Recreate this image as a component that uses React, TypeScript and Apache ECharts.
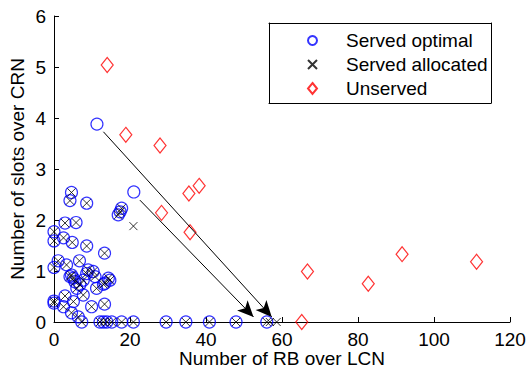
import React, { useEffect, useRef } from "react";
import * as echarts from "echarts";

// Served optimal (blue circles)
const servedOptimal: [number, number][] = [
  [11.3, 3.88], [21.0, 2.55],
  [4.6, 2.54], [4.2, 2.38], [8.6, 2.33], [17.8, 2.23], [17.4, 2.16], [16.9, 2.1],
  [2.9, 1.94], [5.8, 1.95], [0, 1.77], [0, 1.59], [2.5, 1.65], [4.8, 1.56], [8.6, 1.49],
  [13.3, 1.35], [1.1, 1.2], [0, 1.07], [3.3, 1.12], [6.7, 1.2],
  [4.6, 0.92], [5.1, 0.86], [4.2, 0.89], [5.5, 0.79], [6.8, 0.73], [7.7, 0.82], [8.6, 0.95],
  [10.3, 0.99], [9.0, 1.02], [10.8, 0.89], [6.0, 0.66], [7.7, 0.53], [11.2, 0.66], [13.4, 0.76],
  [14.7, 0.82], [14.3, 0.86], [13.0, 0.74],
  [0, 0.37], [0, 0.41], [2.9, 0.51], [2.5, 0.3], [5.1, 0.4], [9.9, 0.3], [13.3, 0.35],
  [4.6, 0.18], [6.4, 0.1],
  [7.3, 0], [12.1, 0], [13.0, 0], [13.9, 0], [15.2, 0], [17.8, 0], [20.9, 0], [29.5, 0],
  [34.7, 0], [40.9, 0], [47.9, 0], [56.0, 0],
];

// Served allocated (black crosses)
const servedAllocated: [number, number][] = [
  [20.9, 1.88],
  [4.6, 2.54], [4.2, 2.38], [8.6, 2.33], [17.8, 2.23], [17.4, 2.16], [16.9, 2.1],
  [2.9, 1.94], [5.8, 1.95], [0, 1.77], [0, 1.59], [2.5, 1.65], [4.8, 1.56], [8.6, 1.49],
  [13.3, 1.35], [1.1, 1.2], [0, 1.07], [3.3, 1.12], [6.7, 1.2],
  [4.6, 0.92], [5.1, 0.86], [4.2, 0.89], [5.5, 0.79], [6.8, 0.73], [7.7, 0.82], [8.6, 0.95],
  [10.3, 0.99], [9.0, 1.02], [10.8, 0.89], [6.0, 0.66], [7.7, 0.53], [11.2, 0.66], [13.4, 0.76],
  [14.7, 0.82], [14.3, 0.86], [13.0, 0.74],
  [0, 0.37], [0, 0.41], [2.9, 0.51], [2.5, 0.3], [5.1, 0.4], [9.9, 0.3], [13.3, 0.35],
  [4.6, 0.18], [6.4, 0.1],
  [7.3, 0], [12.1, 0], [13.0, 0], [13.9, 0], [15.2, 0], [17.8, 0], [20.9, 0], [29.5, 0],
  [34.7, 0], [40.9, 0], [47.9, 0], [56.0, 0], [56.8, 0], [58.6, 0],
];

// Unserved (red diamonds)
const unserved: [number, number][] = [
  [14.0, 5.04], [18.9, 3.67], [27.9, 3.46], [35.5, 2.52], [38.2, 2.67], [28.3, 2.14],
  [35.8, 1.76], [66.7, 0.99], [82.7, 0.75], [91.6, 1.33], [111.2, 1.18], [65.2, 0],
];

// Arrows (from, to)
const arrowFrom: [number, number][] = [[13.0, 3.73], [22.6, 2.39]];
const arrowTo: [number, number][] = [[57.3, 0.1], [52.5, 0.1]];

const xTicks = [0, 20, 40, 60, 80, 100, 120];
const yTicks = [0, 1, 2, 3, 4, 5, 6];

const FONT = "'Liberation Sans', Arial, sans-serif";

const frameAxis = (gridIndex: number, position: string) => ({
  type: "value",
  gridIndex,
  position,
  min: 0,
  max: 1,
  axisLine: { show: true, onZero: false, lineStyle: { color: "#000", width: 1 } },
  axisTick: { show: false },
  axisLabel: { show: false },
  splitLine: { show: false },
  silent: true,
});

export default function App() {
  const ref = useRef<HTMLDivElement>(null);
  useEffect(() => {
    if (!ref.current) return;
    const chart = echarts.init(ref.current, undefined, { renderer: "svg" });
    const crossPath = "path://M0,0L10,10M0,10L10,0";
    chart.setOption({
      animation: false,
      backgroundColor: "#ffffff",
      textStyle: { fontFamily: FONT },
      grid: [
        {
          left: 54,
          top: 16,
          right: 18,
          bottom: 48,
          containLabel: false,
          outerBoundsMode: "none",
        },
        {
          left: 269,
          top: 23,
          width: 222,
          height: 80,
          containLabel: false,
          outerBoundsMode: "none",
        },
      ],
      xAxis: [
        {
          type: "value",
          gridIndex: 0,
          min: xTicks[0],
          max: xTicks[xTicks.length - 1],
          interval: 20,
          name: "Number of RB over LCN",
          nameLocation: "middle",
          nameGap: 27,
          nameMoveOverlap: false,
          nameTextStyle: { fontSize: 19, color: "#000", fontFamily: FONT },
          axisLine: { show: true, lineStyle: { color: "#000", width: 1 } },
          axisTick: { show: true, inside: true, length: 5, lineStyle: { color: "#000" } },
          axisLabel: { fontSize: 19, color: "#000", margin: 8, fontFamily: FONT },
          splitLine: { show: false },
        },
        frameAxis(1, "bottom"),
        frameAxis(1, "top"),
      ],
      yAxis: [
        {
          type: "value",
          gridIndex: 0,
          min: yTicks[0],
          max: yTicks[yTicks.length - 1],
          interval: 1,
          name: "Number of slots over CRN",
          nameLocation: "middle",
          nameGap: 27,
          nameMoveOverlap: false,
          nameTextStyle: { fontSize: 19, color: "#000", fontFamily: FONT },
          axisLine: { show: true, lineStyle: { color: "#000", width: 1 } },
          axisTick: { show: true, inside: true, length: 5, lineStyle: { color: "#000" } },
          axisLabel: { fontSize: 19, color: "#000", margin: 8, fontFamily: FONT },
          splitLine: { show: false },
        },
        frameAxis(1, "left"),
        frameAxis(1, "right"),
      ],
      legend: {
        orient: "vertical",
        left: 307,
        top: 31,
        itemWidth: 9,
        itemHeight: 11,
        itemGap: 5,
        padding: 0,
        z: 10,
        textStyle: { fontSize: 19, color: "#000", fontFamily: FONT, padding: [0, 0, 0, 24] },
        data: ["Served optimal", "Served allocated", "Unserved"],
      },
      series: [
        {
          name: "Served optimal",
          type: "scatter",
          clip: false,
          data: servedOptimal,
          symbol: "circle",
          symbolSize: 12,
          itemStyle: { color: "transparent", borderColor: "#0000ff", borderWidth: 1.2 },
          markLine: {
            silent: true,
            symbol: ["none", "arrow"],
            symbolSize: [11, 16],
            label: { show: false },
            lineStyle: { color: "#000", width: 1, type: "solid" },
            data: arrowFrom.map((f, i) => [{ coord: f }, { coord: arrowTo[i] }]),
          },
          z: 3,
        },
        {
          name: "Served allocated",
          type: "scatter",
          clip: false,
          data: servedAllocated,
          symbol: crossPath,
          symbolSize: 8,
          itemStyle: { color: "transparent", borderColor: "#000", borderWidth: 1 },
          z: 4,
        },
        {
          name: "Unserved",
          type: "scatter",
          clip: false,
          data: unserved,
          symbol: "diamond",
          symbolSize: [12, 15],
          itemStyle: { color: "transparent", borderColor: "#ff0000", borderWidth: 1.2 },
          z: 3,
        },
      ],
    });
    return () => chart.dispose();
  }, []);
  return (
    <div
      ref={ref}
      style={{ position: "absolute", left: 0, top: 0, width: 528, height: 370 }}
    />
  );
}
